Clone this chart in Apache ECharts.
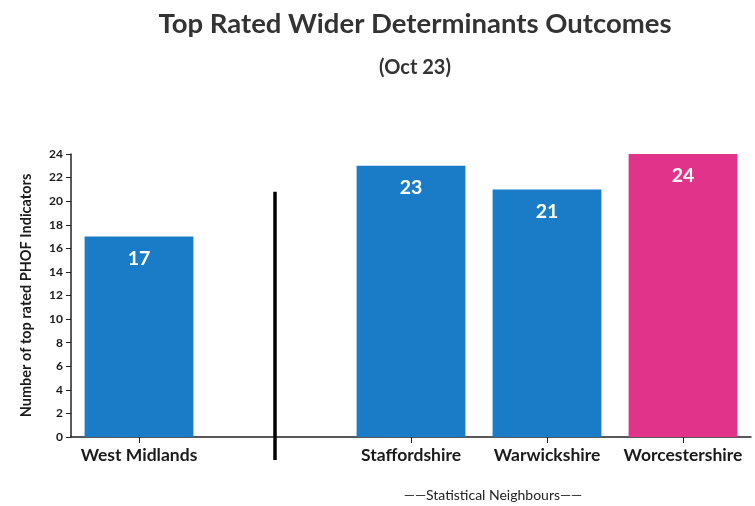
<!DOCTYPE html>
<html>
<head>
<meta charset="utf-8">
<script src="https://cdn.jsdelivr.net/npm/echarts@6/dist/echarts.min.js"></script>
<style>
  html, body { margin: 0; padding: 0; background: #fff; }
  #chart { width: 755px; height: 506px; }
</style>
</head>
<body>
<div id="chart"></div>
<script>
// areas, with an empty slot where the divider sits
const areas = ['West Midlands', '', 'Staffordshire', 'Warwickshire', 'Worcestershire']
const indicators = [17, null, 23, 21, 24]
const yTicks = { min: 0, max: 24, step: 2 }
const dividerTopValue = 20.8

const blue = '#1a7cc6'
const pink = '#e1338a'

const myChart = echarts.init(document.getElementById('chart'))

const option = {
  textStyle: { fontFamily: 'Lato' },
  title: [
    {
      text: 'Top Rated Wider Determinants Outcomes',
      left: 410,
      top: 5,
      textAlign: 'center',
      textStyle: { fontSize: 27.5, fontWeight: 'bold', color: '#333', fontFamily: 'Lato' }
    },
    {
      text: '(Oct 23)',
      left: 410,
      top: 53,
      textAlign: 'center',
      textStyle: { fontSize: 20, fontWeight: 'bold', color: '#333', fontFamily: 'Lato' }
    },
    {
      text: '——Statistical Neighbours——',
      left: 488,
      top: 483,
      textAlign: 'center',
      textStyle: { fontSize: 14, fontWeight: 'normal', color: '#222', fontFamily: 'Lato' }
    }
  ],
  grid: { left: 71, right: 4, top: 154, bottom: 69, containLabel: false },
  xAxis: {
    type: 'category',
    data: areas,
    axisLine: { lineStyle: { color: '#222', width: 1.5 } },
    axisTick: { show: true, alignWithLabel: true, length: 6, lineStyle: { color: '#222' } },
    axisLabel: { color: '#1a1a1a', fontSize: 17.5, fontWeight: 'bold', margin: 9, interval: 0 }
  },
  yAxis: {
    type: 'value',
    min: yTicks.min,
    max: yTicks.max,
    interval: yTicks.step,
    name: 'Number of top rated PHOF Indicators',
    nameLocation: 'middle',
    nameGap: 37,
    nameTextStyle: { fontSize: 14.5, fontWeight: 'bold', color: '#1a1a1a' },
    axisLine: { show: true, lineStyle: { color: '#222', width: 1.5 } },
    axisTick: { show: true, length: 5, lineStyle: { color: '#222' } },
    axisLabel: { color: '#1a1a1a', fontSize: 12, fontWeight: 'bold', margin: 8 },
    splitLine: { show: false }
  },
  series: [
    {
      type: 'bar',
      barWidth: '80%',
      data: indicators.map(function (v, i) {
        return { value: v, itemStyle: { color: i === areas.length - 1 ? pink : blue } }
      }),
      label: {
        show: true,
        position: 'insideTop',
        distance: 12,
        color: '#fff',
        fontSize: 19.5,
        fontWeight: 'bold'
      }
    }
  ]
}
myChart.setOption(option)

// divider between West Midlands and the statistical neighbours
const lineTop = myChart.convertToPixel({ yAxisIndex: 0 }, dividerTopValue)
const lineBase = myChart.convertToPixel({ yAxisIndex: 0 }, 0)
const lineX = myChart.convertToPixel({ xAxisIndex: 0 }, 1)
myChart.setOption({
  graphic: [
    {
      type: 'line',
      shape: { x1: lineX, y1: lineTop, x2: lineX, y2: lineBase + 23 },
      style: { stroke: '#000', lineWidth: 3.5 },
      z: 10
    }
  ]
})
</script>
</body>
</html>
